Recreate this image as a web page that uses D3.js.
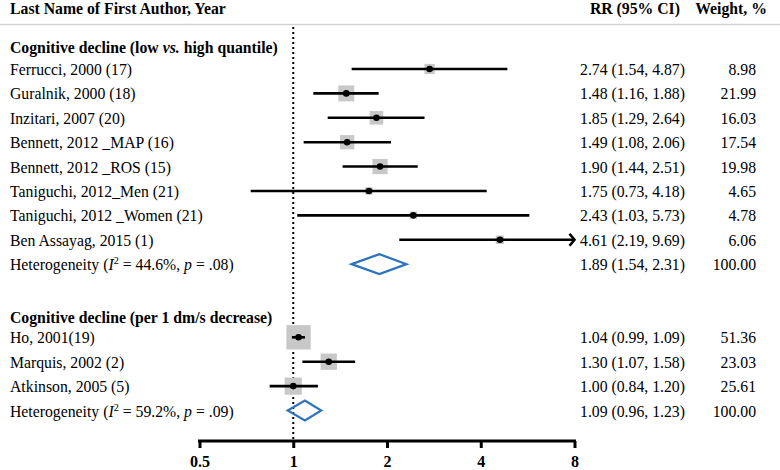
<!DOCTYPE html>
<html>
<head>
<meta charset="utf-8">
<script src="https://cdn.jsdelivr.net/npm/d3@7"></script>
<style>
  html, body { margin: 0; padding: 0; background: #fff; }
  text { font-family: "Liberation Serif", "Times New Roman", serif; }
</style>
</head>
<body>
<svg id="chart" width="780" height="470"></svg>
<script>
// ---- data ----
const group1Title = "Cognitive decline (low vs. high quantile)";
const group1Labels = ["Ferrucci, 2000 (17)", "Guralnik, 2000 (18)", "Inzitari, 2007 (20)", "Bennett, 2012 _MAP (16)",
  "Bennett, 2012 _ROS (15)", "Taniguchi, 2012_Men (21)", "Taniguchi, 2012 _Women (21)", "Ben Assayag, 2015 (1)"];
const group1RR = [2.74, 1.48, 1.85, 1.49, 1.90, 1.75, 2.43, 4.61];
const group1Lo = [1.54, 1.16, 1.29, 1.08, 1.44, 0.73, 1.03, 2.19];
const group1Hi = [4.87, 1.88, 2.64, 2.06, 2.51, 4.18, 5.73, 9.69];
const group1W  = [8.98, 21.99, 16.03, 17.54, 19.98, 4.65, 4.78, 6.06];
const group1Pooled = {rr: 1.89, lo: 1.54, hi: 2.31, w: 100.00, i2: "44.6%", p: ".08"};

const group2Title = "Cognitive decline (per 1 dm/s decrease)";
const group2Labels = ["Ho, 2001(19)", "Marquis, 2002 (2)", "Atkinson, 2005 (5)"];
const group2RR = [1.04, 1.30, 1.00];
const group2Lo = [0.99, 1.07, 0.84];
const group2Hi = [1.09, 1.58, 1.20];
const group2W  = [51.36, 23.03, 25.61];
const group2Pooled = {rr: 1.09, lo: 0.96, hi: 1.23, w: 100.00, i2: "59.2%", p: ".09"};

const axisTicks = [0.5, 1, 2, 4, 8];
const headerLeft = "Last Name of First Author, Year";
const headerRR = "RR (95% CI)";
const headerW = "Weight, %";

// ---- layout ----
const svg = d3.select("#chart");
const FS = 15.75;
const x = d3.scaleLog().base(2).domain([0.5, 8]).range([199.5, 574.5]);
const y = d3.scaleLinear().domain([0, 14]).range([69, 410.5]);
const rrRight = 685, wRight = 756, labelX = 10;
const fmt = d3.format(".2f");
const ciText = (r, l, h) => `${fmt(r)} (${fmt(l)}, ${fmt(h)})`;

// build rows
const rows = [];
group1Labels.forEach((lab, i) => rows.push({type: "study", idx: i, label: lab, rr: group1RR[i], lo: group1Lo[i], hi: group1Hi[i], w: group1W[i]}));
rows.push(Object.assign({type: "pooled", idx: 8}, group1Pooled));
group2Labels.forEach((lab, i) => rows.push({type: "study", idx: 11 + i, label: lab, rr: group2RR[i], lo: group2Lo[i], hi: group2Hi[i], w: group2W[i]}));
rows.push(Object.assign({type: "pooled", idx: 14}, group2Pooled));

// header
svg.append("text").attr("x", labelX).attr("y", 14).attr("font-weight", "bold").attr("font-size", FS).text(headerLeft);
svg.append("text").attr("x", 680).attr("y", 14).attr("text-anchor", "end").attr("font-weight", "bold").attr("font-size", FS).text(headerRR);
svg.append("text").attr("x", 767).attr("y", 14).attr("text-anchor", "end").attr("font-weight", "bold").attr("font-size", FS).text(headerW);
svg.append("line").attr("x1", 0).attr("x2", 780).attr("y1", 24.5).attr("y2", 24.5).attr("stroke", "#d4d4d4").attr("stroke-width", 1.5);

// group titles
function groupTitle(t, yy) {
  const parts = t.split("vs.");
  const el = svg.append("text").attr("x", labelX).attr("y", yy).attr("font-weight", "bold").attr("font-size", FS);
  if (parts.length === 2) {
    el.append("tspan").text(parts[0]);
    el.append("tspan").attr("font-style", "italic").text("vs.");
    el.append("tspan").text(parts[1]);
  } else el.text(t);
}
groupTitle(group1Title, y(-1) + 8.5);
groupTitle(group2Title, y(10) + 10);

// reference dotted line at RR = 1
svg.append("line").attr("x1", x(1)).attr("x2", x(1)).attr("y1", 27).attr("y2", 440)
  .attr("stroke", "#000").attr("stroke-width", 2).attr("stroke-dasharray", "2,3");

// axis
const axis = d3.axisBottom(x).tickValues(axisTicks).tickFormat(d => String(d)).tickSize(7).tickSizeOuter(0).tickPadding(8);
const ag = svg.append("g").attr("transform", "translate(0,441)").call(axis);
ag.select(".domain").attr("stroke", "#000").attr("stroke-width", 3).attr("d", `M${x(0.5) - 1.5},0H${x(8) + 1.5}`);
ag.selectAll(".tick line").attr("stroke", "#000").attr("stroke-width", 3);
ag.selectAll(".tick text").attr("font-family", "Liberation Serif, serif").attr("font-size", 16).attr("font-weight", "bold").attr("fill", "#000");

// study rows
const studies = rows.filter(r => r.type === "study");
const maxX = x.domain()[1];
const sq = d => 3.4 * Math.sqrt(d.w);
const sg = svg.append("g");
sg.selectAll("rect").data(studies).join("rect")
  .attr("x", d => x(d.rr) - sq(d) / 2).attr("y", d => y(d.idx) - sq(d) / 2)
  .attr("width", sq).attr("height", sq).attr("fill", "#c8c8c8");
sg.selectAll("line.ci").data(studies).join("line").attr("class", "ci")
  .attr("x1", d => x(d.lo)).attr("x2", d => x(Math.min(d.hi, maxX)))
  .attr("y1", d => y(d.idx)).attr("y2", d => y(d.idx))
  .attr("stroke", "#000").attr("stroke-width", 2.6);
sg.selectAll("path.arrow").data(studies.filter(d => d.hi > maxX)).join("path").attr("class", "arrow")
  .attr("d", d => `M${x(maxX) - 5},${y(d.idx) - 6}L${x(maxX)},${y(d.idx)}L${x(maxX) - 5},${y(d.idx) + 6}`)
  .attr("fill", "none").attr("stroke", "#000").attr("stroke-width", 2.6);
sg.selectAll("circle").data(studies).join("circle")
  .attr("cx", d => x(d.rr)).attr("cy", d => y(d.idx)).attr("r", 3.3).attr("fill", "#000");

// pooled diamonds
const pooled = rows.filter(r => r.type === "pooled");
svg.selectAll("path.diamond").data(pooled).join("path").attr("class", "diamond")
  .attr("d", d => `M${x(d.lo)},${y(d.idx)}L${x(d.rr)},${y(d.idx) - 10}L${x(d.hi)},${y(d.idx)}L${x(d.rr)},${y(d.idx) + 10}Z`)
  .attr("fill", "none").attr("stroke", "#2e74bd").attr("stroke-width", 2.2).attr("stroke-linejoin", "miter");

// left labels
const textY = d => y(d.idx) + 6;
svg.selectAll("text.lab").data(studies).join("text").attr("class", "lab")
  .attr("x", labelX).attr("y", textY).attr("font-size", FS).text(d => d.label);
pooled.forEach(d => {
  const t = svg.append("text").attr("x", labelX).attr("y", textY(d)).attr("font-size", FS);
  t.append("tspan").text("Heterogeneity (");
  t.append("tspan").attr("font-style", "italic").text("I");
  t.append("tspan").attr("font-size", FS * 0.65).attr("dy", -6).text("2");
  t.append("tspan").attr("dy", 6).text(` = ${d.i2}, `);
  t.append("tspan").attr("font-style", "italic").text("p");
  t.append("tspan").text(` = ${d.p})`);
});

// right columns
svg.selectAll("text.rr").data(rows).join("text").attr("class", "rr")
  .attr("x", rrRight).attr("y", textY).attr("text-anchor", "end").attr("font-size", FS)
  .text(d => ciText(d.rr, d.lo, d.hi));
svg.selectAll("text.w").data(rows).join("text").attr("class", "w")
  .attr("x", wRight).attr("y", textY).attr("text-anchor", "end").attr("font-size", FS)
  .text(d => fmt(d.w));
</script>
</body>
</html>
